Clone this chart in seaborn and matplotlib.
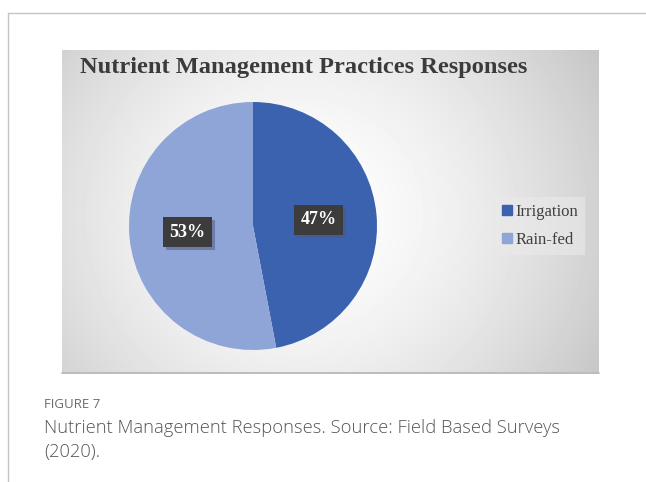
import numpy as np
import seaborn as sns
import matplotlib.pyplot as plt
import matplotlib.patheffects as pe
from matplotlib.lines import Line2D

categories = ['Irrigation', 'Rain-fed']
shares = [47, 53]
colors = ['#3A62AF', '#8FA4D7']
title = 'Nutrient Management Practices Responses'
fig_label = 'FIGURE 7'
caption = 'Nutrient Management Responses. Source: Field Based Surveys\n(2020).'

sns.set_style('white')
plt.rcParams['font.family'] = ['DejaVu Sans']

W, H = 646, 482
fig = plt.figure(figsize=(W / 100, H / 100), dpi=100)

def box(x0, y0, x1, y1):
    # pixel box (top-left origin) -> figure fraction
    return [x0 / W, 1 - y1 / H, (x1 - x0) / W, (y1 - y0) / H]

# outer frame lines
frame = fig.add_axes([0, 0, 1, 1])
frame.set_xlim(0, W)
frame.set_ylim(H, 0)
frame.axis('off')
frame.plot([8, W], [13, 13], color='#c4c4c4', lw=1)
frame.plot([8, 8], [13, H], color='#c4c4c4', lw=1)

# chart panel with radial gradient
px0, py0, px1, py1 = 62, 50, 599, 372
bg = fig.add_axes(box(px0, py0, px1, py1))
xx, yy = np.meshgrid(np.arange(px0, px1), np.arange(py0, py1))
d = np.sqrt((xx - 300) ** 2 + ((yy - 215) / 0.95) ** 2)
val = np.clip(1.0 - 0.2 * (d / 320) ** 1.6, 0.77, 1.0)
bg.imshow(val, cmap='gray', vmin=0, vmax=1, aspect='auto',
          extent=[px0, px1, py1, py0])
bg.axis('off')
frame.plot([px0, px1], [py1 + 0.5, py1 + 0.5], color='#b0b0b0', lw=1.2)

bg.text(80, 67, title, fontsize=17.6, fontweight='bold', color='#3b3b3b',
        family='Liberation Serif', va='center', ha='left')

# pie
cx, cy, r = 253, 226, 124
ax = fig.add_axes(box(cx - r, cy - r, cx + r, cy + r))
wedges, texts, autotexts = ax.pie(
    shares, colors=colors, startangle=90, counterclock=False,
    autopct=lambda p: f'{p:.0f}%', pctdistance=0.53, radius=1,
    wedgeprops=dict(linewidth=0))
ax.set_xlim(-1, 1)
ax.set_ylim(-1, 1)
ax.set_aspect('auto')
ax.axis('off')
for t in autotexts:
    t.set_color('white')
    t.set_fontsize(13)
    t.set_fontweight('bold')
    t.set_family('Liberation Serif')
    t.set_bbox(dict(facecolor='#3c3c3c', edgecolor='none', boxstyle='square,pad=0.36'))
    t.get_bbox_patch().set_path_effects([
        pe.SimplePatchShadow(offset=(2, -2), shadow_rgbFace='#555577', alpha=0.5),
        pe.Normal()])

# legend
handles = [Line2D([0], [0], marker='s', linestyle='none', markersize=7,
                  markerfacecolor=c, markeredgecolor=c) for c in colors]
leg = fig.legend(handles, categories, loc='center left',
                 bbox_to_anchor=(496 / W, 1 - 226 / H), frameon=True,
                 prop=dict(family='Liberation Serif', size=12),
                 handlelength=0.5, handletextpad=0.25, labelspacing=0.75,
                 borderpad=0.4, borderaxespad=0, fancybox=False)
leg.get_frame().set_facecolor('#eaeaea')
leg.get_frame().set_edgecolor('none')
leg.get_frame().set_alpha(0.6)
for t in leg.get_texts():
    t.set_color('#404040')

# caption
frame.text(44, 404, fig_label, fontsize=9.5, color='#6b6b6b',
           family='Open Sans', va='center', ha='left')
frame.text(44, 440, caption, fontsize=13.2, color='#555555',
           family='Open Sans', fontweight='light', va='center', ha='left',
           linespacing=1.4)

fig.savefig('out.png', dpi=100)
